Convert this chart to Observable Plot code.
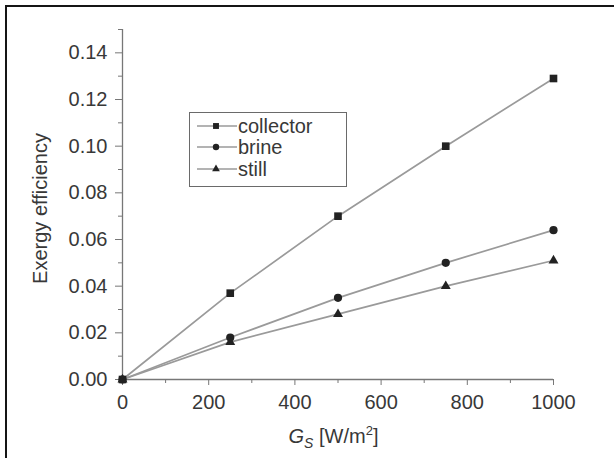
<!DOCTYPE html>
<html><head><meta charset="utf-8">
<script src="https://cdn.jsdelivr.net/npm/d3@7"></script>
<script src="https://cdn.jsdelivr.net/npm/@observablehq/plot@0.6"></script>
<style>
body{margin:0;background:#fff;}
#wrap{position:relative;width:614px;height:458px;overflow:hidden;font-family:"Liberation Sans",Arial,sans-serif;background:#fff;}
#frame{position:absolute;left:5px;top:5px;right:-10px;bottom:-10px;border-top:2px solid #151515;border-left:2px solid #151515;pointer-events:none;}
#chart{position:absolute;left:0;top:0;}
#legend{position:absolute;left:189px;top:112px;width:158px;height:75px;box-sizing:border-box;border:1.5px solid #6a6a6a;background:#fff;padding-top:2px;}
.row{display:flex;align-items:center;height:21.5px;padding-left:7px;}
.row span{font-size:20px;color:#383838;line-height:20px;margin-left:1px;}
</style></head><body>
<div id="wrap"><div id="chart"></div><div id="legend"></div><div id="frame"></div></div>
<script>
const irradiance = [0, 250, 500, 750, 1000];
const collector = [0, 0.037, 0.070, 0.100, 0.129];
const brine = [0, 0.018, 0.035, 0.050, 0.064];
const still = [0, 0.016, 0.028, 0.040, 0.051];
const seriesNames = ["collector", "brine", "still"];
const seriesSymbols = ["square", "circle", "triangle"];
const xTicks = [0, 200, 400, 600, 800, 1000];
const xMinor = [100, 300, 500, 700, 900];
const yTicks = [0, 0.02, 0.04, 0.06, 0.08, 0.10, 0.12, 0.14];
const yMinor = [0.01, 0.03, 0.05, 0.07, 0.09, 0.11, 0.13, 0.15];
const xDomain = [0, 1000];
const yDomain = [0, 0.15];

const seriesValues = [collector, brine, still];
const table = seriesNames.flatMap((name, i) =>
  irradiance.map((g, j) => ({series: name, g, value: seriesValues[i][j]})));

const lineColor = "#9a9a9a";
const markColor = "#222";
const textColor = "#383838";
const axisColor = "#777";
const radii = {collector: 4.3, brine: 4.1, still: 3.7};

const plot = Plot.plot({
  width: 614,
  height: 458,
  marginLeft: 122,
  marginRight: 61,
  marginTop: 29,
  marginBottom: 79,
  style: {fontFamily: "'Liberation Sans', Arial, sans-serif", background: "transparent"},
  x: {domain: xDomain, label: null},
  y: {domain: yDomain, label: null},
  marks: [
    Plot.ruleX([0], {stroke: axisColor, strokeWidth: 1.3}),
    Plot.ruleY([0], {stroke: axisColor, strokeWidth: 1.3}),
    Plot.axisY(yTicks, {tickSize: 7, tickPadding: 8, tickFormat: d3.format(".2f"), fontSize: 20, fill: textColor, stroke: axisColor, label: null}),
    Plot.axisY(yMinor, {tickSize: 4, tickFormat: () => "", stroke: axisColor, label: null}),
    Plot.axisX(xTicks, {tickSize: 6, tickPadding: 9, tickFormat: d3.format("d"), fontSize: 20, fill: textColor, stroke: axisColor, label: null}),
    Plot.axisX(xMinor, {tickSize: 4, tickFormat: () => "", stroke: axisColor, label: null}),
    Plot.line(table, {x: "g", y: "value", z: "series", stroke: lineColor, strokeWidth: 1.7}),
    ...seriesNames.map((name, i) => Plot.dot(table.filter(d => d.series === name), {
      x: "g", y: "value", symbol: seriesSymbols[i], r: radii[name], fill: markColor, stroke: "none"
    })),
    Plot.text(["Exergy efficiency"], {frameAnchor: "left", textAnchor: "middle", dx: -82, dy: 4, rotate: -90, fontSize: 20, fill: textColor})
  ]
});
document.getElementById("chart").appendChild(plot);

// x-axis label with italic G and subscript S
const xs = plot.scale("x");
const xl = d3.select(plot).append("text")
  .attr("x", (xs.range[0] + xs.range[1]) / 2 - 4)
  .attr("y", 443)
  .attr("text-anchor", "middle")
  .attr("font-size", 20)
  .attr("fill", textColor);
xl.append("tspan").attr("font-style", "italic").text("G");
xl.append("tspan").attr("font-style", "italic").attr("font-size", 14).attr("dy", 5).text("S");
xl.append("tspan").attr("dy", -5).text(" [W/m");
xl.append("tspan").attr("font-size", 13).attr("dy", -8).text("2");
xl.append("tspan").attr("dy", 8).text("]");

// legend
const legend = d3.select("#legend");
seriesNames.forEach((name, i) => {
  const row = legend.append("div").attr("class", "row");
  const s = row.append("svg").attr("width", 40).attr("height", 20);
  s.append("line").attr("x1", 0).attr("x2", 40).attr("y1", 10).attr("y2", 10)
    .attr("stroke", lineColor).attr("stroke-width", 1.7);
  const sym = {square: d3.symbolSquare, circle: d3.symbolCircle, triangle: d3.symbolTriangle}[seriesSymbols[i]];
  s.append("path").attr("transform", "translate(19,10)")
    .attr("d", d3.symbol(sym, Math.PI * radii[name] * radii[name] * 0.6)())
    .attr("fill", markColor);
  row.append("span").text(name);
});
</script>
</body></html>
